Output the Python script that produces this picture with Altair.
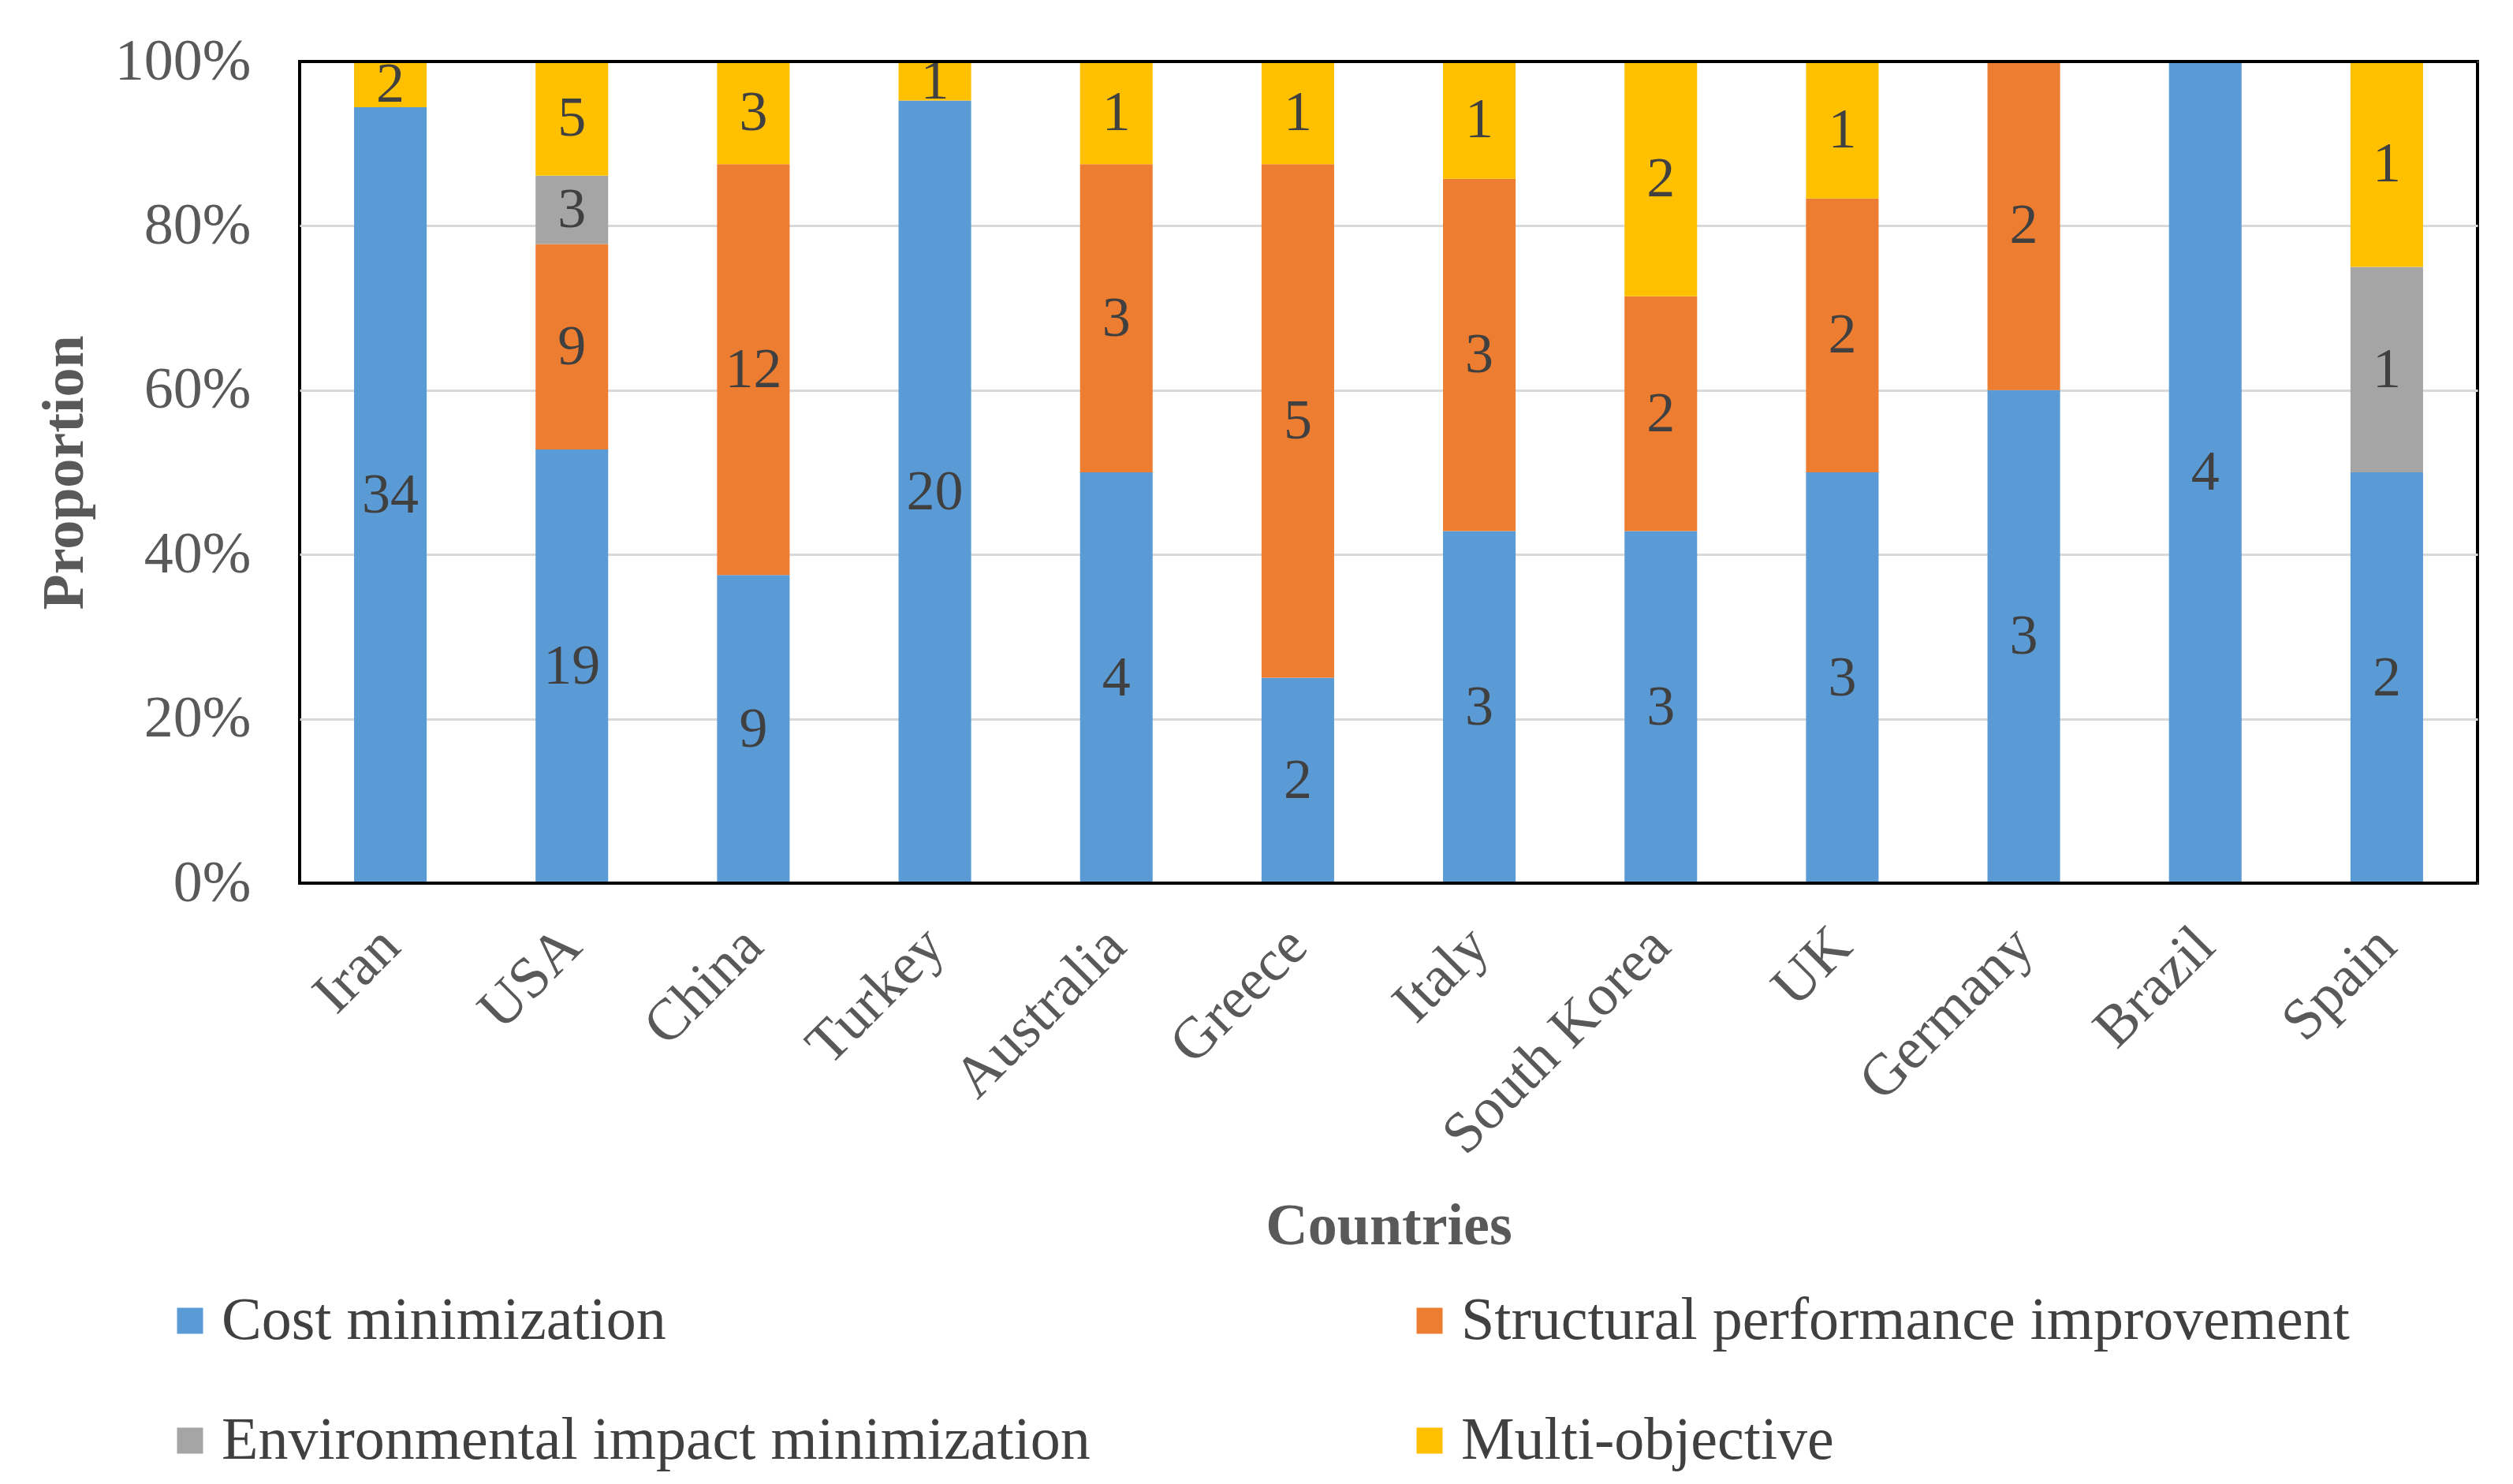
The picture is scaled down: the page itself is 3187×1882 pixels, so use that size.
import altair as alt
import pandas as pd

countries = ["Iran", "USA", "China", "Turkey", "Australia", "Greece", "Italy",
             "South Korea", "UK", "Germany", "Brazil", "Spain"]
objectives = ["Cost minimization", "Structural performance improvement",
              "Environmental impact minimization", "Multi-objective"]
cost = [34, 19, 9, 20, 4, 2, 3, 3, 3, 3, 4, 2]
structural = [0, 9, 12, 0, 3, 5, 3, 2, 2, 2, 0, 0]
environmental = [0, 3, 0, 0, 0, 0, 0, 0, 0, 0, 0, 1]
multi = [2, 5, 3, 1, 1, 1, 1, 2, 1, 0, 0, 1]
colors = ["#5B9BD5", "#ED7D31", "#A5A5A5", "#FFC000"]

rows = []
for series_idx, (name, vals) in enumerate(zip(objectives, [cost, structural, environmental, multi])):
    for c, v in zip(countries, vals):
        if v > 0:
            rows.append({"country": c, "objective": name, "idx": series_idx, "count": v})
df = pd.DataFrame(rows)

# legend is laid out column-major, so order the domain to read row-wise
legend_order = [objectives[0], objectives[2], objectives[1], objectives[3]]
legend_colors = [colors[0], colors[2], colors[1], colors[3]]

FONT = "Liberation Serif"

base = alt.Chart(df).transform_stack(
    stack="count", as_=["y0", "y1"], groupby=["country"],
    sort=[alt.SortField("idx", order="ascending")], offset="normalize"
).transform_calculate(mid="(datum.y0 + datum.y1) / 2")

x_enc = alt.X("country:N", sort=countries,
              scale=alt.Scale(paddingInner=0.6, paddingOuter=0.3),
              axis=alt.Axis(title="Countries", labelAngle=315, labelAlign="right",
                            labelBaseline="middle", labelPadding=68, ticks=False,
                            domain=False, labelFont=FONT, labelFontSize=74,
                            labelColor="#595959", labelLimit=2000, titleFont=FONT,
                            titleFontSize=74, titleFontWeight="bold", titleColor="#595959",
                            titleY=435, titleBaseline="middle"))

bars = base.mark_bar().encode(
    x=x_enc,
    y=alt.Y("y0:Q", scale=alt.Scale(domain=[0, 1]),
            axis=alt.Axis(title="Proportion", format=".0%", values=[0, 0.2, 0.4, 0.6, 0.8, 1.0],
                          ticks=False, domain=False, labelPadding=62,
                          labelFont=FONT, labelFontSize=74, labelColor="#595959",
                          gridColor="#D9D9D9", gridWidth=3,
                          titleFont=FONT, titleFontSize=74, titleFontWeight="bold",
                          titleColor="#595959", titleX=-298, titleBaseline="middle")),
    y2="y1:Q",
    color=alt.Color("objective:N", sort=legend_order,
                    scale=alt.Scale(domain=legend_order, range=legend_colors),
                    legend=alt.Legend(title=None, orient="none", legendX=-177, legendY=1559,
                                      columns=2, columnPadding=392, rowPadding=76,
                                      symbolType="square", symbolSize=1089,
                                      symbolStrokeWidth=0, labelOffset=2,
                                      labelFont=FONT, labelFontSize=76,
                                      labelColor="#404040", padding=0,
                                      labelLimit=2000)),
)

labels = base.mark_text(font=FONT, fontSize=72, color="#404040", baseline="middle").encode(
    x=alt.X("country:N", sort=countries),
    y=alt.Y("mid:Q"),
    text=alt.Text("count:Q"),
)

frame_df = pd.DataFrame({"edge": [0.0, 1.0]})
frame = alt.Chart(frame_df).mark_rule(color="#000000", strokeWidth=4).encode(
    y=alt.Y("edge:Q")
)

chart = alt.layer(bars, labels, frame).properties(
    width=2762, height=1042,
    background="white",
    autosize=alt.AutoSizeParams(type="none"),
    padding={"left": 372, "top": 70, "right": 37, "bottom": 754},
).configure_view(stroke="#000000", strokeWidth=4)

chart.save("out.html", embed_options={"renderer": "svg", "actions": False})
